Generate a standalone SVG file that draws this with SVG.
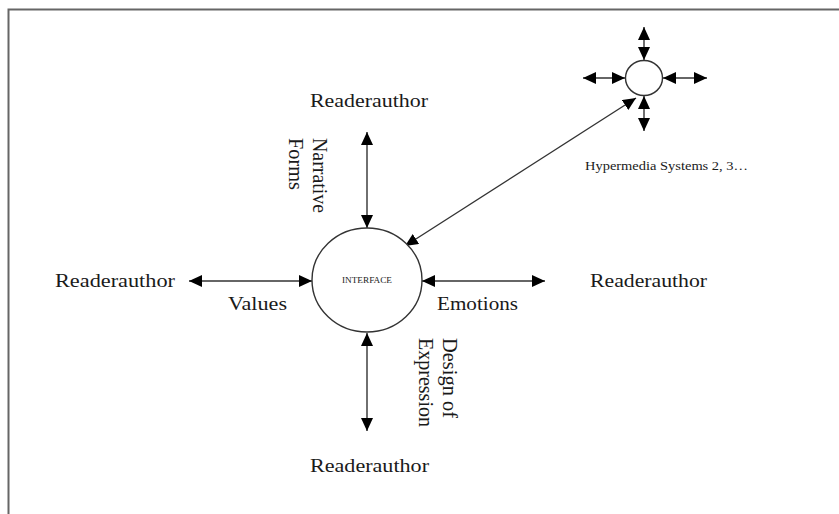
<svg xmlns="http://www.w3.org/2000/svg" width="839" height="514" viewBox="0 0 839 514">
<style>
.t{font-family:"Liberation Serif","Times New Roman",serif;fill:#1a1a1a;}
.c{fill:#fff;stroke:#333;stroke-width:1.4;}
.l{stroke:#333;stroke-width:1.4;fill:none;marker-start:url(#ah);marker-end:url(#ah);}
</style>
<defs>
<marker id="ah" markerUnits="userSpaceOnUse" markerWidth="15" markerHeight="13" refX="13" refY="6" orient="auto-start-reverse">
<path d="M0,0 L13,6 L0,12 z" fill="#000"/>
</marker>
</defs>
<rect width="839" height="514" fill="#fff"/>
<path d="M8.5,514 L8.5,9.5 L839,9.5" fill="none" stroke="#666" stroke-width="2"/>
<g id="connectors">
<line class="l" x1="367" y1="132" x2="367" y2="228"/>
<line class="l" x1="367" y1="333" x2="367" y2="431"/>
<line class="l" x1="189" y1="281" x2="312" y2="281"/>
<line class="l" x1="422" y1="281" x2="545" y2="281"/>
<line class="l" x1="405" y1="246" x2="636" y2="98"/>
<line class="l" x1="644" y1="27" x2="644" y2="60"/>
<line class="l" x1="644" y1="96" x2="644" y2="131"/>
<line class="l" x1="583" y1="78" x2="625" y2="78"/>
<line class="l" x1="663" y1="78" x2="707" y2="78"/>
</g>
<g id="interface">
<ellipse class="c" cx="367" cy="280" rx="55" ry="52"/>
<text class="t" x="367" y="283" font-size="8" text-anchor="middle" textLength="50" lengthAdjust="spacingAndGlyphs">INTERFACE</text>
</g>
<g id="hypermedia">
<ellipse class="c" cx="644" cy="78" rx="18.5" ry="17.5"/>
<text class="t" x="585" y="170" font-size="13" textLength="163" lengthAdjust="spacingAndGlyphs">Hypermedia Systems 2, 3…</text>
</g>
<g id="reader-top">
<text class="t" x="310" y="107" font-size="19" textLength="118" lengthAdjust="spacingAndGlyphs">Readerauthor</text>
</g>
<g id="reader-left">
<text class="t" x="55" y="287" font-size="19" textLength="120" lengthAdjust="spacingAndGlyphs">Readerauthor</text>
</g>
<g id="reader-right">
<text class="t" x="590" y="287" font-size="19" textLength="117" lengthAdjust="spacingAndGlyphs">Readerauthor</text>
</g>
<g id="reader-bottom">
<text class="t" x="310" y="472" font-size="19" textLength="119" lengthAdjust="spacingAndGlyphs">Readerauthor</text>
</g>
<g id="labels">
<text class="t" x="228" y="310" font-size="19" textLength="59" lengthAdjust="spacingAndGlyphs">Values</text>
<text class="t" x="437" y="310" font-size="19" textLength="81" lengthAdjust="spacingAndGlyphs">Emotions</text>
<text class="t" transform="translate(313,138) rotate(90) scale(1,1.2)" font-size="18" textLength="75" lengthAdjust="spacingAndGlyphs">Narrative</text>
<text class="t" transform="translate(289,138) rotate(90) scale(1,1.2)" font-size="18" textLength="52" lengthAdjust="spacingAndGlyphs">Forms</text>
<text class="t" transform="translate(443,338) rotate(90) scale(1,1.2)" font-size="18" textLength="80" lengthAdjust="spacingAndGlyphs">Design of</text>
<text class="t" transform="translate(419,338) rotate(90) scale(1,1.2)" font-size="18" textLength="89" lengthAdjust="spacingAndGlyphs">Expression</text>
</g>
</svg>
